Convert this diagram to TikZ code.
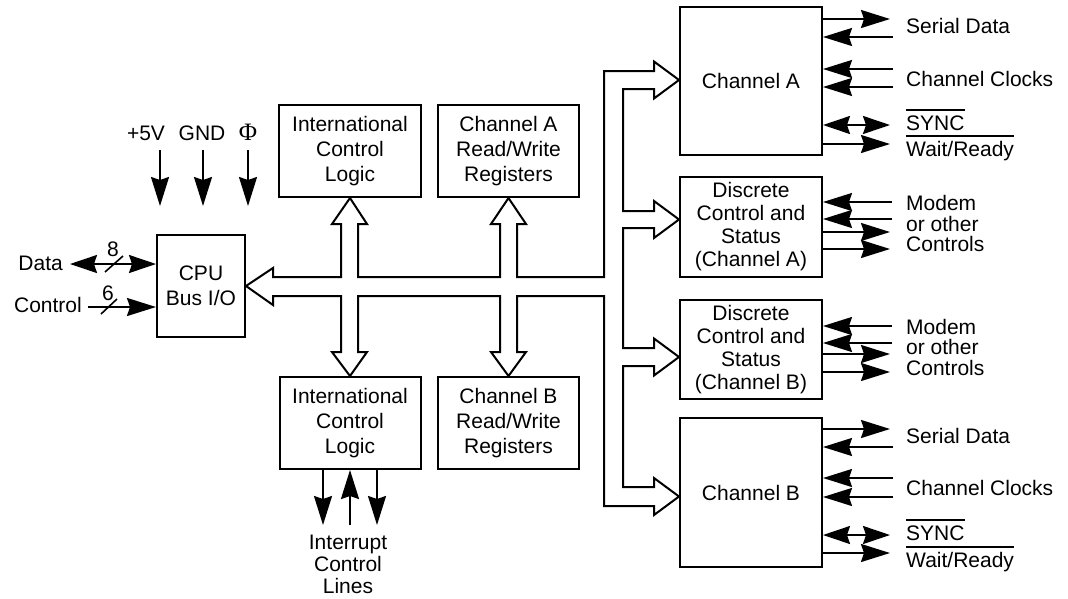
\documentclass[tikz,border=0pt]{standalone}
\usepackage{fontspec}
\setmainfont{Liberation Sans}
\newfontfamily\phifont{Liberation Serif}
\usetikzlibrary{arrows.meta}
\begin{document}
\begin{tikzpicture}[x=1pt,y=-1pt,
  font=\fontsize{21}{25}\selectfont,
  box/.style={draw,line width=2pt,inner sep=0pt,align=center},
  wire/.style={line width=2pt},
  arr/.style={wire,-{Stealth[length=29pt,width=18pt,inset=3pt]}},
  darr/.style={wire,{Stealth[length=27pt,width=18pt,inset=3pt]}-{Stealth[length=27pt,width=18pt,inset=3pt]}},
  lbl/.style={inner sep=0pt},
  bus/.style={line width=2pt,line join=miter},
  over/.style={line width=1.6pt},
  slash/.style={line width=1.6pt},
  fourline/.style={font=\fontsize{21}{23}\selectfont},
  threeline/.style={font=\fontsize{21}{20.5}\selectfont,align=left},
]
\useasboundingbox (0,0) rectangle (1068,598);

% ---------- boxes ----------
\node[box,minimum width=88pt,minimum height=102pt] (cpu) at (201,286) {CPU\\Bus I/O};
\node[box,minimum width=142pt,minimum height=92pt] (iclT) at (350,151) {International\\Control\\Logic};
\node[box,minimum width=141pt,minimum height=92pt] (rwA) at (508.5,151) {Channel A\\Read/Write\\Registers};
\node[box,minimum width=141pt,minimum height=92pt] (iclB) at (350,423) {International\\Control\\Logic};
\node[box,minimum width=141pt,minimum height=92pt] (rwB) at (508.5,423) {Channel B\\Read/Write\\Registers};
\node[box,minimum width=142pt,minimum height=148pt] (chA) at (751,81) {Channel A};
\node[box,fourline,minimum width=142pt,minimum height=100pt] (discA) at (751,227) {Discrete\\Control and\\Status\\(Channel A)};
\node[box,fourline,minimum width=142pt,minimum height=99pt] (discB) at (751,349.5) {Discrete\\Control and\\Status\\(Channel B)};
\node[box,minimum width=142pt,minimum height=149pt] (chB) at (751,492.5) {Channel B};

% ---------- internal bus (hollow outline) ----------
\draw[bus] (cpu.east) -- (273,268) -- (273,277) -- (341,277) -- (341,224) -- (332,224)
  -- (iclT.south) -- (367,224) -- (358,224) -- (358,277) -- (500,277) -- (500,224) -- (491,224)
  -- (rwA.south) -- (526,224) -- (517,224) -- (517,277) -- (604,277) -- (604,71) -- (654,71) -- (654,61.5)
  -- (chA.west |- 0,80) -- (654,98.5) -- (654,89) -- (623,89) -- (623,211) -- (654,211) -- (654,201)
  -- (discA.west |- 0,219.5) -- (654,238) -- (654,228) -- (623,228) -- (623,348) -- (654,348) -- (654,338.5)
  -- (discB.west |- 0,357) -- (654,375.5) -- (654,366) -- (623,366) -- (623,487) -- (654,487) -- (654,478)
  -- (chB.west |- 0,496.5) -- (654,515) -- (654,506) -- (604,506) -- (604,296) -- (517,296) -- (517,352) -- (526,352)
  -- (rwB.north) -- (491,352) -- (500,352) -- (500,296) -- (358,296) -- (358,352) -- (367,352)
  -- (iclB.north) -- (332,352) -- (341,352) -- (341,296) -- (273,296) -- (273,305) -- cycle;

% ---------- CPU side ----------
\node[lbl,anchor=east] (data) at (63,263.5) {Data};
\node[lbl,anchor=east] (ctl) at (82,305) {Control};
\draw[darr] (70,264) -- (cpu.west |- 0,264);
\draw[arr] (88,307) -- (cpu.west |- 0,307);
\draw[slash] (105,272) -- (123,256);
\node[lbl] (n8) at (113,249) {8};
\draw[slash] (101,314) -- (117,299);
\node[lbl] (n6) at (108,293) {6};

\node[lbl,anchor=base] (p5) at (146,140) {+5V};
\node[lbl,anchor=base] (gnd) at (202,140) {GND};
\node[lbl,anchor=base,font=\phifont\fontsize{25}{25}\selectfont] (phi) at (248,140) {Φ};
\coordinate (p5t) at (160,206);
\coordinate (gndt) at (203,206);
\coordinate (phit) at (248,206);
\draw[arr] (160,150) -- (p5t);
\draw[arr] (203,150) -- (gndt);
\draw[arr] (248,150) -- (phit);

% ---------- interrupt lines ----------
\draw[arr] (iclB.south -| 323,0) -- (323,525);
\draw[arr] (350,525) -- (iclB.south -| 350,0);
\draw[arr] (iclB.south -| 377,0) -- (377,525);
\node[lbl,align=center,font=\fontsize{21}{22}\selectfont] (intl) at (348,564) {Interrupt\\Control\\Lines};

% ---------- Channel A signals ----------
\draw[arr] (chA.east |- 0,19) -- (890,19);
\draw[arr] (893,37) -- (chA.east |- 0,37);
\draw[arr] (893,69) -- (chA.east |- 0,69);
\draw[arr] (893,87) -- (chA.east |- 0,87);
\draw[darr] (chA.east |- 0,125) -- (890,125);
\draw[arr] (chA.east |- 0,144) -- (890,144);
\node[lbl,anchor=base west] (sdA) at (906,33.5) {Serial Data};
\node[lbl,anchor=base west] (ccA) at (906,86) {Channel Clocks};
\node[lbl,anchor=base west] (syA) at (906,130) {SYNC};
\node[lbl,anchor=base west] (wrA) at (906,156.5) {Wait/Ready};
\draw[over] (syA.west |- 0,110) -- (syA.east |- 0,110);
\draw[over] (wrA.west |- 0,136) -- (wrA.east |- 0,136);

% ---------- Discrete A signals ----------
\draw[arr] (892,202) -- (discA.east |- 0,202);
\draw[arr] (892,219) -- (discA.east |- 0,219);
\draw[arr] (discA.east |- 0,232) -- (890,232);
\draw[arr] (discA.east |- 0,249) -- (890,249);
\node[lbl,threeline,anchor=west] (mdA) at (906,223.5) {Modem\\or other\\Controls};

% ---------- Discrete B signals ----------
\draw[arr] (892,326) -- (discB.east |- 0,326);
\draw[arr] (892,343) -- (discB.east |- 0,343);
\draw[arr] (discB.east |- 0,354) -- (890,354);
\draw[arr] (discB.east |- 0,372) -- (890,372);
\node[lbl,threeline,anchor=west] (mdB) at (906,347) {Modem\\or other\\Controls};

% ---------- Channel B signals ----------
\draw[arr] (chB.east |- 0,429) -- (890,429);
\draw[arr] (893,447) -- (chB.east |- 0,447);
\draw[arr] (893,478) -- (chB.east |- 0,478);
\draw[arr] (893,497) -- (chB.east |- 0,497);
\draw[darr] (chB.east |- 0,535) -- (890,535);
\draw[arr] (chB.east |- 0,553) -- (890,553);
\node[lbl,anchor=base west] (sdB) at (906,443) {Serial Data};
\node[lbl,anchor=base west] (ccB) at (906,495) {Channel Clocks};
\node[lbl,anchor=base west] (syB) at (906,540) {SYNC};
\node[lbl,anchor=base west] (wrB) at (906,567) {Wait/Ready};
\draw[over] (syB.west |- 0,520) -- (syB.east |- 0,520);
\draw[over] (wrB.west |- 0,547) -- (wrB.east |- 0,547);
\end{tikzpicture}
\end{document}
